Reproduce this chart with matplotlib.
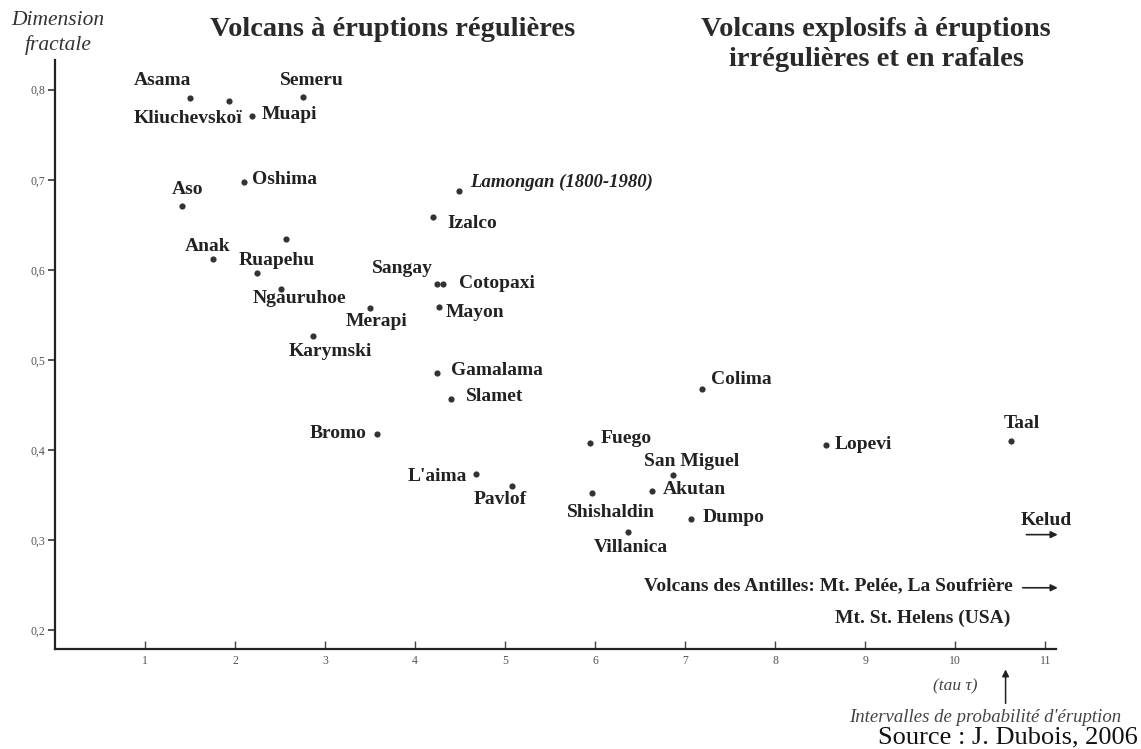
import matplotlib
matplotlib.use("Agg")
import matplotlib.pyplot as plt

plt.rcParams["font.family"] = ["Liberation Serif", "DejaVu Serif"]

# Volcano name, eruption interval (tau) and fractal dimension
names = [
    "Asama", "Kliuchevskoï", "Muapi", "Semeru", "Oshima", "Aso", "Anak",
    "Ruapehu", "", "Ngauruhoe", "Merapi", "Karymski", "Bromo",
    "Lamongan (1800-1980)", "Izalco", "Sangay", "Cotopaxi", "Mayon",
    "Gamalama", "Slamet", "L'aima", "Pavlof", "Fuego", "Shishaldin",
    "Villanica", "San Miguel", "Akutan", "Dumpo", "Colima", "Lopevi", "Taal",
]
tau = [
    1.50, 1.93, 2.19, 2.76, 2.10, 1.41, 1.76,
    2.24, 2.57, 2.51, 3.50, 2.87, 3.58,
    4.49, 4.20, 4.24, 4.31, 4.27,
    4.24, 4.40, 4.68, 5.08, 5.94, 5.96,
    6.36, 6.87, 6.63, 7.06, 7.19, 8.56, 10.62,
]
dimension = [
    0.791, 0.787, 0.771, 0.792, 0.697, 0.671, 0.612,
    0.597, 0.634, 0.579, 0.558, 0.526, 0.418,
    0.687, 0.659, 0.584, 0.584, 0.559,
    0.486, 0.457, 0.373, 0.360, 0.408, 0.352,
    0.309, 0.372, 0.354, 0.323, 0.468, 0.406, 0.410,
]

x_ticks = [1, 2, 3, 4, 5, 6, 7, 8, 9, 10, 11]
y_ticks = [0.2, 0.3, 0.4, 0.5, 0.6, 0.7, 0.8]
y_tick_labels = ["0,2", "0,3", "0,4", "0,5", "0,6", "0,7", "0,8"]

# label placement relative to each dot: (dx px, dy px, horizontal alignment)
label_layout = {
    "Asama": (-28, 17, "center"),
    "Kliuchevskoï": (-41, -17, "center"),
    "Muapi": (10, 1, "left"),
    "Semeru": (8, 16, "center"),
    "Oshima": (8, 3, "left"),
    "Aso": (6, 16, "center"),
    "Anak": (-6, 13, "center"),
    "Ruapehu": (20, 12, "center"),
    "Ngauruhoe": (19, -10, "center"),
    "Merapi": (6, -14, "center"),
    "Karymski": (17, -15, "center"),
    "Bromo": (-11, 0, "right"),
    "Lamongan (1800-1980)": (11, 9, "left"),
    "Izalco": (14, -7, "left"),
    "Sangay": (-4, 16, "right"),
    "Cotopaxi": (16, 1, "left"),
    "Mayon": (6, -6, "left"),
    "Gamalama": (14, 2, "left"),
    "Slamet": (15, 2, "left"),
    "L'aima": (-9, -2, "right"),
    "Pavlof": (-12, -14, "center"),
    "Fuego": (11, 4, "left"),
    "Shishaldin": (19, -19, "center"),
    "Villanica": (3, -16, "center"),
    "San Miguel": (18, 14, "center"),
    "Akutan": (11, 2, "left"),
    "Dumpo": (12, 2, "left"),
    "Colima": (9, 9, "left"),
    "Lopevi": (9, 0, "left"),
    "Taal": (11, 17, "center"),
}

ink = "#222222"

fig = plt.figure(figsize=(11.41, 7.49), dpi=100)
ax = fig.add_axes([0.0482, 0.1335, 0.8773, 0.7864])
ax.set_xlim(0, 11.12)
ax.set_ylim(0.179, 0.833)

for side in ("top", "right"):
    ax.spines[side].set_visible(False)
for side in ("left", "bottom"):
    ax.spines[side].set_color(ink)
    ax.spines[side].set_linewidth(1.6)

ax.set_xticks(x_ticks)
ax.set_xticklabels([str(t) for t in x_ticks])
ax.set_yticks(y_ticks)
ax.set_yticklabels(y_tick_labels)
ax.tick_params(axis="x", direction="in", length=6, width=1.0, pad=4,
               labelsize=8.5, labelcolor="#555555", color="#444444")
ax.tick_params(axis="y", direction="out", length=5, width=1.2, pad=2,
               labelsize=8.5, labelcolor="#555555", color="#333333")

ax.scatter(tau, dimension, s=20, color="#333333", zorder=3, linewidths=0)

for name, x, y in zip(names, tau, dimension):
    if not name:
        continue
    dx, dy, ha = label_layout[name]
    italic = name.startswith("Lamongan")
    ax.annotate(name, (x, y), xytext=(dx, dy), textcoords="offset pixels",
                ha=ha, va="center", fontsize=13.5 if italic else 14,
                fontweight="bold", fontstyle="italic" if italic else "normal",
                color=ink)

# volcanoes whose intervals lie beyond the axis
ax.text(11.01, 0.322, "Kelud", ha="center", va="center", fontsize=14,
        fontweight="bold", color=ink, clip_on=False)
ax.annotate("", xy=(11.17, 0.306), xytext=(10.76, 0.306),
            arrowprops=dict(arrowstyle="-|>", color=ink, lw=1.2,
                            mutation_scale=10), annotation_clip=False)
ax.text(10.64, 0.249, "Volcans des Antilles: Mt. Pelée, La Soufrière",
        ha="right", va="center", fontsize=14, fontweight="bold", color=ink)
ax.annotate("", xy=(11.17, 0.247), xytext=(10.72, 0.247),
            arrowprops=dict(arrowstyle="-|>", color=ink, lw=1.2,
                            mutation_scale=10), annotation_clip=False)
ax.text(10.61, 0.213, "Mt. St. Helens (USA)", ha="right", va="center",
        fontsize=14, fontweight="bold", color=ink)

# axis captions
fig.text(0.051, 0.973, "Dimension", ha="center", va="center", fontsize=15.5,
         fontstyle="italic", color="#333333")
fig.text(0.051, 0.940, "fractale", ha="center", va="center", fontsize=15.5,
         fontstyle="italic", color="#333333")

xt = ax.get_xaxis_transform()
ax.text(10.0, -0.063, "(tau τ)", transform=xt, ha="center", va="center",
        fontsize=12.5, fontstyle="italic", color="#444444")
ax.annotate("", xy=(10.56, -0.03), xytext=(10.56, -0.097), xycoords=xt,
            textcoords=xt,
            arrowprops=dict(arrowstyle="-|>", color=ink, lw=1.1,
                            mutation_scale=10), annotation_clip=False)
ax.text(10.33, -0.116, "Intervalles de probabilité d'éruption", transform=xt,
        ha="center", va="center", fontsize=13.5, fontstyle="italic",
        color="#444444")

# group headings
fig.text(0.344, 0.961, "Volcans à éruptions régulières", ha="center",
         va="center", fontsize=20.5, fontweight="bold", color="#2a2a2a")
fig.text(0.768, 0.961, "Volcans explosifs à éruptions", ha="center",
         va="center", fontsize=20.5, fontweight="bold", color="#2a2a2a")
fig.text(0.768, 0.920, "irrégulières et en rafales", ha="center",
         va="center", fontsize=20.5, fontweight="bold", color="#2a2a2a")

fig.text(0.997, 0.016, "Source : J. Dubois, 2006", ha="right", va="center",
         fontsize=19, color="#111111")

fig.savefig("out.png", dpi=100)
